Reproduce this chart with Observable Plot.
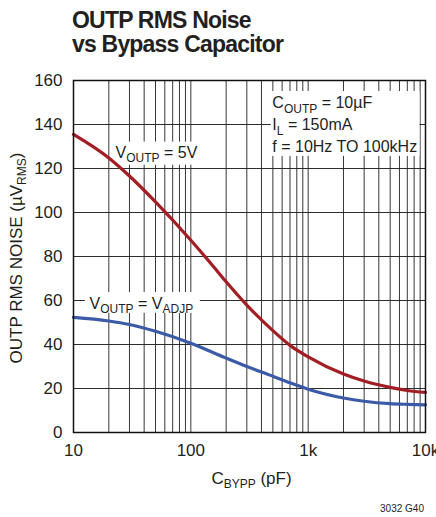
<!DOCTYPE html>
<html>
<head>
<meta charset="utf-8">
<script src="https://cdn.jsdelivr.net/npm/d3@7"></script>
<script src="https://cdn.jsdelivr.net/npm/@observablehq/plot@0.6"></script>
<style>
  html, body { margin: 0; padding: 0; background: #fff; }
  body { font-family: "Liberation Sans", Arial, sans-serif; color: #231f20; }
  #wrap { position: relative; width: 436px; height: 517px; overflow: hidden; background: #fff; }
  #title { position: absolute; left: 72px; top: 9px; font-weight: bold; font-size: 23px; line-height: 23.5px; letter-spacing: -0.8px; white-space: nowrap; }
  #chart { position: absolute; left: 0; top: 65px; }
  #note { position: absolute; right: 12px; top: 503px; font-size: 10px; line-height: 12px; }
</style>
</head>
<body>
<div id="wrap">
  <div id="title">OUTP RMS Noise<br>vs Bypass Capacitor</div>
  <div id="chart"></div>
  <div id="note">3032 G40</div>
</div>
<script>
// ---- data ----
const capPF5V   = [10, 20, 30, 50, 100, 150, 200, 300, 500, 700, 1000, 2000, 3000, 5000, 7000, 10000];
const noise5V   = [135.5, 124.8, 116.6, 104.8, 87.4, 76.5, 68.5, 57.9, 46.3, 39.6, 34.4, 26.6, 23.4, 20.5, 19.1, 18.2];
const capPFAdj  = [10, 20, 30, 50, 100, 200, 300, 500, 700, 1000, 2000, 3000, 5000, 7000, 10000];
const noiseAdj  = [52.3, 50.7, 49.1, 46.0, 40.6, 33.8, 30.0, 25.6, 22.6, 19.7, 15.7, 14.2, 13.1, 12.8, 12.6];

const xTickValues = [10, 100, 1000, 10000];
const xTickLabels = ["10", "100", "1k", "10k"];
const yTickValues = [0, 20, 40, 60, 80, 100, 120, 140, 160];
const xGridValues = [20, 30, 40, 50, 60, 70, 80, 90, 100, 200, 300, 400, 500, 600, 700, 800, 900, 1000,
                     2000, 3000, 4000, 5000, 6000, 7000, 8000, 9000];
const yGridValues = [20, 40, 60, 80, 100, 120, 140];

// annotation texts and their anchors (data units)
const labelTexts = ["V_{OUTP} = 5V", "V_{OUTP} = V_{ADJP}", "C_{OUTP} = 10µF", "I_{L} = 150mA", "f = 10Hz TO 100kHz"];
const labelCap   = [22.8, 13.7, 495, 495, 495];
const labelNoise = [124.9, 56.2, 147.4, 137.3, 127.4];
// white boxes behind annotations (data units)
const boxCap1   = [21.5, 12.6, 484];
const boxCap2   = [120.5, 120.5, 8980];
const boxNoise1 = [121.5, 54.2, 125.5];
const boxNoise2 = [132, 63.6, 155];

const xLabel = "C_{BYPP} (pF)";
const yLabel = "OUTP RMS NOISE (µV_{RMS})";

const tickLabelOf = new Map(xTickValues.map((v, i) => [v, xTickLabels[i]]));
const ink = "#231f20";
const gridColor = "#222";

const chart = Plot.plot({
  width: 436,
  height: 430,
  marginTop: 15,
  marginBottom: 63,
  marginLeft: 73,
  marginRight: 11,
  style: { fontFamily: '"Liberation Sans", Arial, sans-serif', fontSize: "17px", color: ink, background: "white", overflow: "visible" },
  x: { type: "log", domain: [10, 10000] },
  y: { domain: [0, 160] },
  marks: [
    Plot.ruleX(xGridValues, { x: d => d, stroke: gridColor, strokeWidth: 1, strokeOpacity: 0.9 }),
    Plot.ruleY(yGridValues, { y: d => d, stroke: gridColor, strokeWidth: 1, strokeOpacity: 0.95 }),
    Plot.rect(boxCap1, { x1: boxCap1, x2: boxCap2, y1: boxNoise1, y2: boxNoise2, fill: "white" }),
    Plot.line(noise5V, { x: capPF5V, y: noise5V, curve: "monotone-x", stroke: "#a31d24", strokeWidth: 3.2 }),
    Plot.line(noiseAdj, { x: capPFAdj, y: noiseAdj, curve: "monotone-x", stroke: "#3b5aa8", strokeWidth: 3.2 }),
    Plot.text(labelTexts, { x: labelCap, y: labelNoise, text: d => d, textAnchor: "start", lineAnchor: "bottom", fontSize: 16, fill: ink }),
    Plot.frame({ stroke: "#111", strokeWidth: 1.5 }),
    Plot.axisX(xTickValues, { tickSize: 0, tickPadding: 11, tickFormat: d => tickLabelOf.get(d), label: null, fontSize: 17, fill: ink }),
    Plot.axisY(yTickValues, { tickSize: 0, tickPadding: 11, label: null, fontSize: 17, fill: ink }),
    Plot.text([xLabel], { text: d => d, frameAnchor: "bottom", textAnchor: "middle", lineAnchor: "bottom", dx: 2, dy: 51, fontSize: 17, fill: ink }),
    Plot.text([yLabel], { text: d => d, frameAnchor: "left", textAnchor: "middle", lineAnchor: "middle", rotate: -90, dx: -57, dy: 1.5, fontSize: 17, fill: ink })
  ]
});

// turn "_{...}" into real subscripts
function applySubscripts(svg) {
  const NS = "http://www.w3.org/2000/svg";
  svg.querySelectorAll("text").forEach(t => {
    const s = t.textContent;
    if (!s.includes("_{")) return;
    const fs = parseFloat(t.getAttribute("font-size")) || parseFloat(getComputedStyle(t).fontSize) || 16;
    const subSize = Math.round(fs * 0.76);
    const shift = (fs * 0.27).toFixed(1);
    while (t.firstChild) t.removeChild(t.firstChild);
    const parts = s.split(/_\{([^}]*)\}/);
    let shifted = false;
    parts.forEach((p, i) => {
      if (p === "") return;
      const ts = document.createElementNS(NS, "tspan");
      ts.textContent = p;
      if (i % 2 === 1) {
        ts.setAttribute("font-size", subSize);
        if (!shifted) { ts.setAttribute("dy", shift); shifted = true; }
      } else if (shifted) {
        ts.setAttribute("dy", -shift); shifted = false;
      }
      t.appendChild(ts);
    });
  });
}
applySubscripts(chart);
document.getElementById("chart").appendChild(chart);
</script>
</body>
</html>
